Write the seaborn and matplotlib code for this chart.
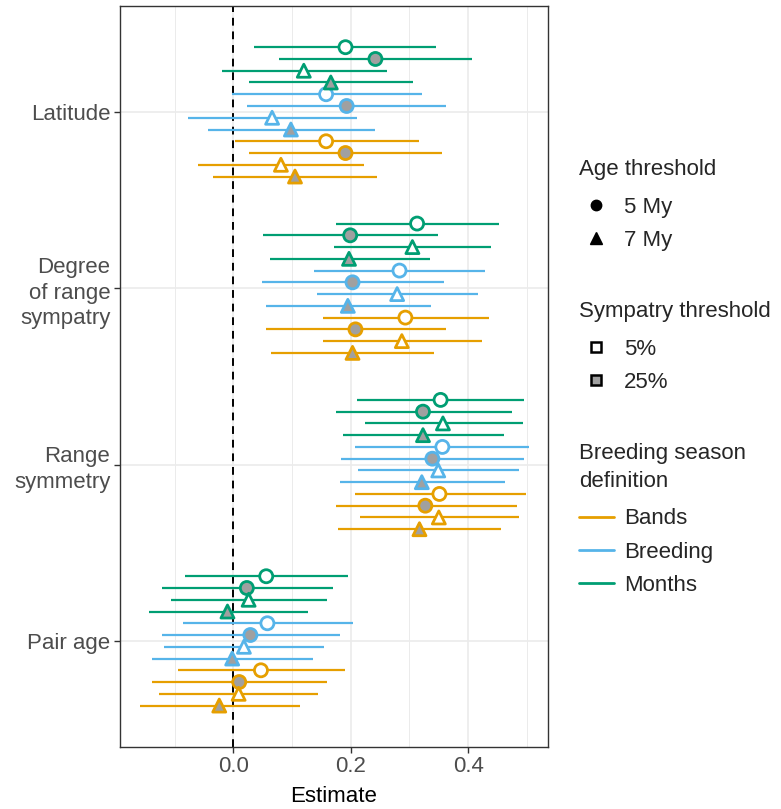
import numpy as np
import pandas as pd
import seaborn as sns
import matplotlib.pyplot as plt
from matplotlib.lines import Line2D

# predictors, top to bottom
predictors = ["Latitude", "Degree\nof range\nsympatry", "Range\nsymmetry", "Pair age"]

# rows inside each predictor group, top to bottom
row_definition = ["Months"] * 4 + ["Breeding"] * 4 + ["Bands"] * 4
row_age = ["5 My", "5 My", "7 My", "7 My"] * 3
row_sympatry = ["5%", "25%", "5%", "25%"] * 3

est_latitude = [0.191, 0.242, 0.120, 0.166, 0.158, 0.193, 0.066, 0.098, 0.158, 0.191, 0.081, 0.105]
low_latitude = [0.035, 0.078, -0.020, 0.026, -0.003, 0.024, -0.077, -0.044, 0.002, 0.026, -0.060, -0.034]
high_latitude = [0.346, 0.406, 0.261, 0.306, 0.321, 0.362, 0.211, 0.241, 0.316, 0.356, 0.222, 0.244]

est_sympatry = [0.313, 0.199, 0.305, 0.197, 0.283, 0.203, 0.279, 0.195, 0.293, 0.208, 0.287, 0.203]
low_sympatry = [0.174, 0.051, 0.172, 0.062, 0.137, 0.048, 0.143, 0.056, 0.152, 0.056, 0.153, 0.064]
high_sympatry = [0.453, 0.349, 0.439, 0.335, 0.428, 0.359, 0.417, 0.336, 0.436, 0.363, 0.423, 0.342]

est_symmetry = [0.353, 0.323, 0.357, 0.323, 0.356, 0.339, 0.349, 0.321, 0.351, 0.327, 0.350, 0.317]
low_symmetry = [0.211, 0.174, 0.225, 0.187, 0.208, 0.183, 0.212, 0.182, 0.208, 0.174, 0.215, 0.179]
high_symmetry = [0.495, 0.474, 0.493, 0.461, 0.504, 0.495, 0.487, 0.463, 0.498, 0.483, 0.486, 0.456]

est_pairage = [0.056, 0.023, 0.026, -0.010, 0.058, 0.029, 0.018, -0.002, 0.047, 0.010, 0.009, -0.024]
low_pairage = [-0.083, -0.122, -0.107, -0.144, -0.086, -0.121, -0.118, -0.139, -0.095, -0.138, -0.126, -0.159]
high_pairage = [0.196, 0.169, 0.159, 0.127, 0.203, 0.181, 0.154, 0.136, 0.190, 0.160, 0.144, 0.114]

colors = {"Bands": "#E69F00", "Breeding": "#56B4E9", "Months": "#009E73"}
markers = {"5 My": "o", "7 My": "^"}
fills = {"5%": "white", "25%": "#A0A0A0"}

ests = [est_latitude, est_sympatry, est_symmetry, est_pairage]
lows = [low_latitude, low_sympatry, low_symmetry, low_pairage]
highs = [high_latitude, high_sympatry, high_symmetry, high_pairage]

rows = []
for g, name in enumerate(predictors):
  for k in range(12):
    rows.append({
      "predictor": name,
      "pos": g + (k - 5.5) * 0.8 / 12,
      "definition": row_definition[k],
      "age": row_age[k],
      "sympatry": row_sympatry[k],
      "estimate": ests[g][k],
      "low": lows[g][k],
      "high": highs[g][k],
    })
df = pd.DataFrame(rows)

sns.set_style("white")
plt.rcParams['font.family'] = ['Liberation Sans', 'DejaVu Sans']

fig = plt.figure(figsize=(7.81, 8.09), dpi=100)
ax = fig.add_axes([0.1537, 0.077, 0.548, 0.9155])

# grid like theme_bw
for x in [-0.1, 0.1, 0.3, 0.5]:
  ax.axvline(x, color="#EBEBEB", lw=0.7, zorder=0)
for x in [0.0, 0.2, 0.4]:
  ax.axvline(x, color="#EBEBEB", lw=1.2, zorder=0)
for y in range(len(predictors)):
  ax.axhline(y, color="#EBEBEB", lw=1.2, zorder=0)

ax.axvline(0, color="black", lw=1.4, ls=(0, (4, 3)), zorder=1)

for defn, sub in df.groupby("definition"):
  ax.hlines(sub["pos"], sub["low"], sub["high"], color=colors[defn], lw=1.6, zorder=2)

for (defn, symp), sub in df.groupby(["definition", "sympatry"]):
  sns.scatterplot(data=sub, x="estimate", y="pos", style="age", markers=markers,
                  color=fills[symp], edgecolor=colors[defn], linewidth=2.0, s=88,
                  legend=False, ax=ax, zorder=3)

ax.set_xlim(-0.193, 0.536)
ax.set_ylim(len(predictors) - 0.4, -0.6)
ax.set_xticks([0.0, 0.2, 0.4])
ax.set_xticklabels(["0.0", "0.2", "0.4"])
ax.set_yticks(range(len(predictors)))
ax.set_yticklabels(predictors, multialignment="right", linespacing=1.3)
ax.set_xlabel("Estimate", fontsize=16, color="black", labelpad=6)
ax.set_ylabel("")
ax.tick_params(axis="both", labelsize=16, labelcolor="#4D4D4D", length=4,
               width=1, color="#333333", pad=3, direction="out")
ax.tick_params(axis="x", bottom=True)
ax.tick_params(axis="y", left=True)
for sp in ax.spines.values():
  sp.set_color("#333333")
  sp.set_linewidth(1.0)

# legends
age_handles = [Line2D([], [], ls="", marker="o", color="black", markersize=7.5),
               Line2D([], [], ls="", marker="^", color="black", markersize=9)]
symp_handles = [Line2D([], [], ls="", marker="s", markerfacecolor="white",
                       markeredgecolor="black", markeredgewidth=1.8, markersize=7),
                Line2D([], [], ls="", marker="s", markerfacecolor="#A0A0A0",
                       markeredgecolor="black", markeredgewidth=1.8, markersize=7)]
def_handles = [Line2D([], [], color=colors[d], lw=2) for d in ["Bands", "Breeding", "Months"]]

legend_specs = [
  (age_handles, ["5 My", "7 My"], "Age threshold", 0.803),
  (symp_handles, ["5%", "25%"], "Sympatry threshold", 0.628),
  (def_handles, ["Bands", "Breeding", "Months"], "Breeding season\ndefinition", 0.453),
]
for handles, labels, title, ytop in legend_specs:
  leg = fig.legend(handles, labels, title=title, loc="upper left",
                   bbox_to_anchor=(0.741, ytop), frameon=False, fontsize=16,
                   title_fontsize=16, handlelength=1.6, handletextpad=0.43,
                   labelspacing=0.55, borderaxespad=0, borderpad=0)
  leg._legend_box.align = "left"
  leg._legend_box.sep = 12
  leg.get_title().set_linespacing(1.45)

fig.savefig("out.png", dpi=100)
